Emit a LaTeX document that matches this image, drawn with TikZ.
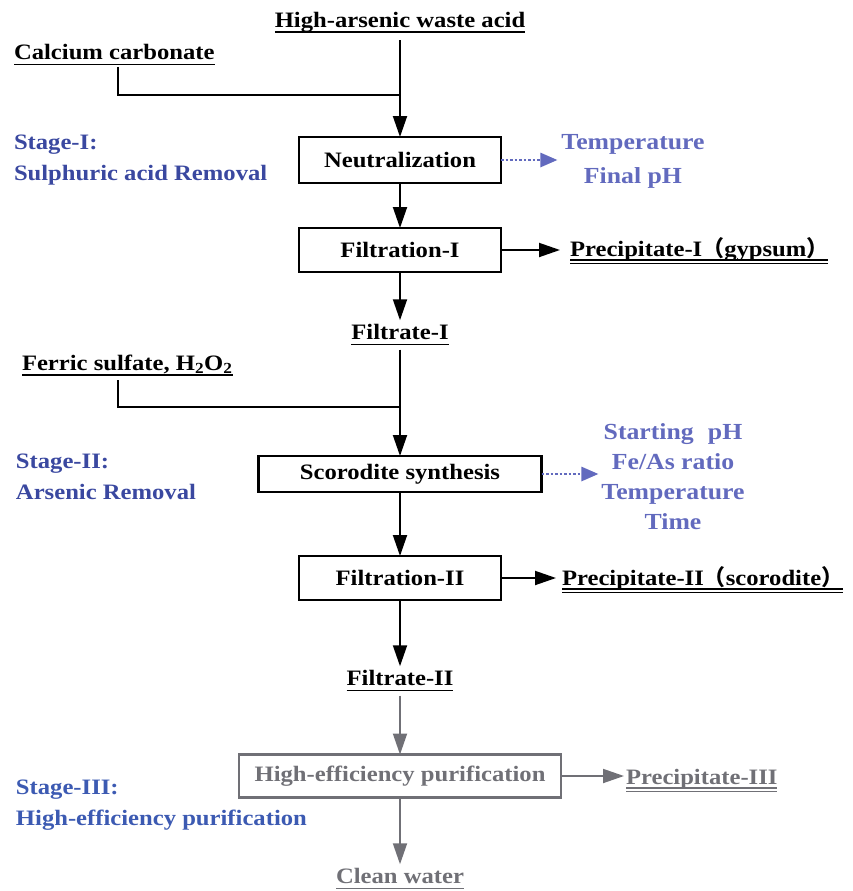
\documentclass[tikz,border=0pt]{standalone}
\usepackage{fontspec}
\setmainfont{Liberation Serif}[FakeStretch=1.12]
\newfontfamily\cjk{Noto Sans CJK SC}[FakeStretch=1.0]
\usetikzlibrary{arrows.meta}
\definecolor{stageblue}{RGB}{58,72,160}
\definecolor{parblue}{RGB}{98,106,190}
\definecolor{sthreeblue}{RGB}{60,90,178}
\definecolor{grayc}{RGB}{112,112,118}
\tikzset{
  txt/.style={inner sep=0pt, outer sep=0pt, font=\fontsize{22}{26}\selectfont\bfseries},
  boxn/.style={draw, line width=2.6pt, inner sep=0pt, outer sep=0pt, font=\fontsize{22}{26}\selectfont\bfseries},
  ulline/.style={line width=1.6pt},
  dblline/.style={line width=1.1pt},
  flow/.style={line width=1.9pt, -{Triangle[length=21pt,width=14pt]}},
  plain/.style={line width=1.9pt},
  dotarrow/.style={parblue, line width=2.6pt, dash pattern=on 2.5pt off 2pt, -{Triangle[length=17pt,width=14pt]}},
  stage/.style={inner sep=0pt, outer sep=0pt, align=left, anchor=west, text=stageblue, font=\fontsize{22}{31}\selectfont\bfseries},
  param/.style={inner sep=0pt, outer sep=0pt, align=center, text=parblue, font=\fontsize{23}{30}\selectfont\bfseries},
}
\begin{document}
\begin{tikzpicture}[x=1pt,y=-1pt]
\useasboundingbox (0,0) rectangle (853,891);
% ---------- Stage I ----------
\node[txt] (top) at (400,22) {High-arsenic waste acid};
\draw[ulline] ([yshift=-5pt]top.base west) -- ([yshift=-5pt]top.base east);
\node[txt, anchor=west] (cc) at (14,52) {Calcium carbonate};
\draw[ulline] ([yshift=-5pt]cc.base west) -- ([yshift=-5pt]cc.base east);
\coordinate (j1) at (400,95);
\coordinate (c1) at (118,95);
\node[boxn, minimum width=202pt, minimum height=46pt] (neut) at (400,160) {Neutralization};
\draw[plain] ([yshift=-7pt]cc.south -| c1) -- (c1) -- (j1);
\draw[flow] ([yshift=-8pt]top.south) -- (neut.north);
\node[param] (p1) at (633,161) {Temperature\\[4pt]Final pH};
\draw[dotarrow] (neut.east) -- ([xshift=-4pt]neut.east -| p1.west);
\node[stage] (s1) at (14,160) {Stage-I:\\Sulphuric acid Removal};
\node[boxn, minimum width=202pt, minimum height=44pt] (f1) at (400,250) {Filtration-I};
\draw[flow] (neut.south) -- (f1.north);
\node[txt, anchor=base west] (pr1) at (570,256) {Precipitate-I{\cjk （}gypsum{\cjk ）}};
\draw[dblline] ([yshift=-4pt]pr1.base west) -- ([yshift=-4pt]pr1.base east);
\draw[dblline] ([yshift=-7.5pt]pr1.base west) -- ([yshift=-7.5pt]pr1.base east);
\draw[flow] (f1.east) -- ([xshift=-10pt]f1.east -| pr1.west);
\node[txt] (ft1) at (400,332) {Filtrate-I};
\draw[ulline] ([yshift=-5pt]ft1.base west) -- ([yshift=-5pt]ft1.base east);
\draw[flow] (f1.south) -- ([yshift=4pt]ft1.north);
% ---------- Stage II ----------
\node[txt, anchor=west] (fs) at (22,364) {Ferric sulfate, H\textsubscript{2}O\textsubscript{2}};
\draw[ulline] ([yshift=-5pt]fs.base west) -- ([yshift=-5pt]fs.base east);
\coordinate (j2) at (400,407);
\coordinate (c2) at (118,407);
\node[boxn, minimum width=283pt, minimum height=36pt] (sc) at (400,474) {Scorodite synthesis};
\draw[plain] ([yshift=-7pt]fs.south -| c2) -- (c2) -- (j2);
\draw[flow] ([yshift=-10pt]ft1.south) -- (sc.north);
\node[param] (p2) at (673,477) {Starting\,\, pH\\Fe/As ratio\\Temperature\\Time};
\draw[dotarrow] (sc.east) -- ([xshift=-3pt]sc.east -| p2.west);
\node[stage] (s2) at (16,477) {Stage-II:\\Arsenic Removal};
\node[boxn, minimum width=202pt, minimum height=44pt] (f2) at (400,578) {Filtration-II};
\draw[flow] (sc.south) -- (f2.north);
\node[txt, anchor=base west] (pr2) at (562,585) {Precipitate-II{\cjk （}scorodite{\cjk ）}};
\draw[dblline] ([yshift=-4pt]pr2.base west) -- ([yshift=-4pt]pr2.base east);
\draw[dblline] ([yshift=-7.5pt]pr2.base west) -- ([yshift=-7.5pt]pr2.base east);
\draw[flow] (f2.east) -- ([xshift=-6pt]f2.east -| pr2.west);
\node[txt] (ft2) at (400,678) {Filtrate-II};
\draw[ulline] ([yshift=-5pt]ft2.base west) -- ([yshift=-5pt]ft2.base east);
\draw[flow] (f2.south) -- ([yshift=4pt]ft2.north);
% ---------- Stage III ----------
\node[boxn, draw=grayc, text=grayc, minimum width=322pt, minimum height=43pt] (hep) at (400,776) {High-efficiency purification};
\draw[flow, grayc] ([yshift=-10pt]ft2.south) -- (hep.north);
\node[txt, anchor=base west, text=grayc] (pr3) at (626,784) {Precipitate-III};
\draw[dblline, grayc] ([yshift=-4pt]pr3.base west) -- ([yshift=-4pt]pr3.base east);
\draw[dblline, grayc] ([yshift=-7.5pt]pr3.base west) -- ([yshift=-7.5pt]pr3.base east);
\draw[flow, grayc] (hep.east) -- ([xshift=-2pt]hep.east -| pr3.west);
\node[stage, text=sthreeblue] (s3) at (16,805) {Stage-III:\\High-efficiency purification};
\node[txt, text=grayc] (cw) at (400,876) {Clean water};
\draw[ulline, grayc] ([yshift=-5pt]cw.base west) -- ([yshift=-5pt]cw.base east);
\draw[flow, grayc] (hep.south) -- ([yshift=4pt]cw.north);
\end{tikzpicture}
\end{document}
